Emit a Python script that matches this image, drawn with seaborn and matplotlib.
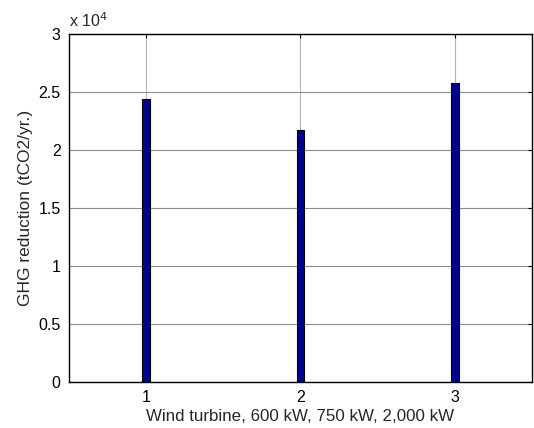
import matplotlib
matplotlib.use("Agg")
import matplotlib.pyplot as plt
from matplotlib.ticker import FuncFormatter, MultipleLocator
import seaborn as sns
import pandas as pd

# GHG reduction per turbine class (tCO2/yr.)
turbines = [1, 2, 3]
ghg_reduction = [24400, 21700, 25800]

sns.set_theme(style="white")
plt.rcParams["font.family"] = ["Liberation Sans", "DejaVu Sans"]

df = pd.DataFrame({"turbine": turbines, "ghg": ghg_reduction})

fig = plt.figure(figsize=(5.34, 4.28), dpi=100)
ax = fig.add_axes([0.129, 0.1075, 0.867, 0.813])

sns.barplot(data=df, x="turbine", y="ghg", native_scale=True, width=0.05,
            color="#00008f", saturation=1, edgecolor="black", linewidth=0.8,
            ax=ax, zorder=3)

ax.set_xlim(0.5, 3.5)
ax.set_ylim(0, 30000)
ax.xaxis.set_major_locator(MultipleLocator(1))
ax.yaxis.set_major_locator(MultipleLocator(5000))
ax.yaxis.set_major_formatter(FuncFormatter(lambda v, p: f"{v/1e4:g}"))
ax.xaxis.set_major_formatter(FuncFormatter(lambda v, p: f"{v:g}"))

ax.grid(axis="y", color="#8c8c8c", linewidth=0.8, zorder=0)
ax.grid(axis="x", color="#b4b4b4", linewidth=0.8, zorder=0)
ax.set_axisbelow(True)

for s in ax.spines.values():
    s.set_color("black")
    s.set_linewidth(1.0)

ax.tick_params(direction="in", length=3, width=0.8, top=True, right=True,
               labelsize=11.5, colors="black", pad=6)

ax.set_xlabel("Wind turbine, 600 kW, 750 kW, 2,000 kW", fontsize=12.2, labelpad=3)
ax.set_ylabel("GHG reduction (tCO2/yr.)", fontsize=12.5, labelpad=4)

fig.text(0.129, 0.93, "x 10$^{4}$", fontsize=11.5, ha="left", va="bottom")

fig.savefig("out.png", dpi=100, facecolor="white")
